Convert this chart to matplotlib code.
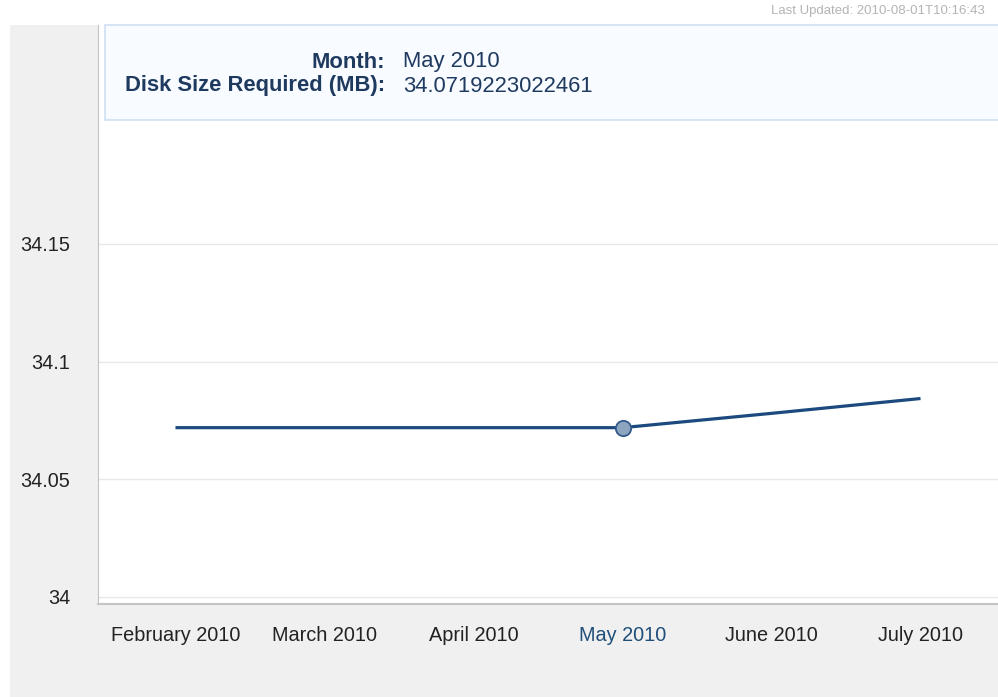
import matplotlib.pyplot as plt
from matplotlib.patches import Rectangle

months = ['February 2010', 'March 2010', 'April 2010', 'May 2010', 'June 2010', 'July 2010']
disk_mb = [34.0719223022461, 34.0719223022461, 34.0719223022461, 34.0719223022461, 34.078, 34.0843]
yticks = [34, 34.05, 34.1, 34.15]
hover_idx = 3
updated = 'Last Updated: 2010-08-01T10:16:43'

plt.rcParams['font.family'] = ['Liberation Sans', 'DejaVu Sans']

W, H = 998, 697
fig = plt.figure(figsize=(W / 100, H / 100), dpi=100)
fig.patch.set_facecolor('white')

# gray panel behind axes
fig.patches.append(Rectangle((10 / W, 0), 1, (H - 25) / H, transform=fig.transFigure,
                             facecolor='#f0f0f0', edgecolor='none', zorder=-5))

ax = fig.add_axes([98 / W, (H - 604) / H, (W - 98) / W, (604 - 25) / H])
ax.set_facecolor('white')
x = list(range(len(months)))
ax.plot(x, disk_mb, color='#1c4a7e', lw=2.3, solid_capstyle='butt', zorder=3)
ax.plot(x[hover_idx], disk_mb[hover_idx], 'o', ms=11, mfc='#8ea5c0', mec='#34598a', mew=1.3, zorder=4)

ax.set_xlim(-0.52, 5.52)
ax.set_ylim(33.997, 34.243)
ax.set_yticks(yticks)
ax.set_yticklabels(['34', '34.05', '34.1', '34.15'])
ax.set_xticks(x)
ax.set_xticklabels(months)
ax.grid(axis='y', color='#e8e8e8', lw=1)
ax.set_axisbelow(True)
ax.tick_params(length=0, labelsize=14.3, colors='#222222')
ax.tick_params(axis='y', pad=20)
ax.tick_params(axis='x', pad=16)
ax.get_xticklabels()[hover_idx].set_color('#1f4e79')
for s in ['top', 'right']:
    ax.spines[s].set_visible(False)
ax.spines['left'].set_color('#c4c4c4')
ax.spines['bottom'].set_color('#c4c4c4')
ax.spines['bottom'].set_linewidth(1.5)

# tooltip box
fig.patches.append(Rectangle((105 / W, (H - 120) / H), (W - 104) / W, 95 / H,
                             transform=fig.transFigure, facecolor='#f8fbff',
                             edgecolor='#cfe0f2', lw=1.2, zorder=5))
fs = 15.8
fig.text(385 / W, (H - 62) / H, 'Month:', ha='right', va='center', fontsize=fs,
         fontweight='bold', color='#1f3a5f', zorder=6)
fig.text(385 / W, (H - 86) / H, 'Disk Size Required (MB):', ha='right', va='center',
         fontsize=fs, fontweight='bold', color='#1f3a5f', zorder=6)
fig.text(403 / W, (H - 62) / H, months[hover_idx], ha='left', va='center', fontsize=fs,
         color='#1f3a5f', zorder=6)
fig.text(403 / W, (H - 86) / H, str(disk_mb[hover_idx]), ha='left', va='center',
         fontsize=fs, color='#1f3a5f', zorder=6)

fig.text(985 / W, (H - 11) / H, updated, ha='right', va='center', fontsize=9.5, color='#b4b4b4')

fig.savefig('out.png', dpi=100)
